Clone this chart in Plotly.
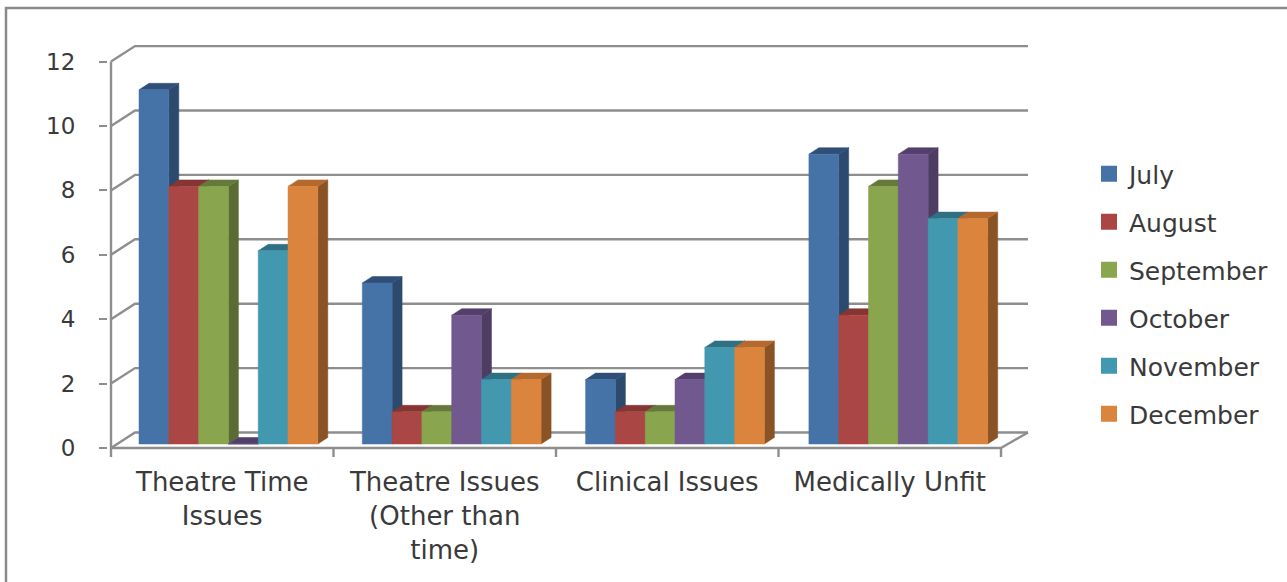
import plotly.graph_objects as go

CATEGORIES = ["Theatre Time<br>Issues", "Theatre Issues<br>(Other than<br>time)", "Clinical Issues", "Medically Unfit"]
MONTHS = ["July", "August", "September", "October", "November", "December"]
JULY = [11, 5, 2, 9]
AUGUST = [8, 1, 1, 4]
SEPTEMBER = [8, 1, 1, 8]
OCTOBER = [0, 4, 2, 9]
NOVEMBER = [6, 2, 3, 7]
DECEMBER = [8, 2, 3, 7]
SERIES = [JULY, AUGUST, SEPTEMBER, OCTOBER, NOVEMBER, DECEMBER]
Y_TICKS = [0, 2, 4, 6, 8, 10, 12]

FRONT = ["#4572A7", "#AA4643", "#89A54E", "#71588F", "#4198AF", "#DB843D"]
TOP = ["#2F4F78", "#853533", "#657A3A", "#533F6B", "#2F7183", "#B5692D"]
SIDE = ["#2C4A6E", "#7A302E", "#5A6C33", "#4E3D63", "#2B6676", "#8A5325"]

GRID = "#8E8E8E"
TEXT = "#3A3A3A"
FONT = "DejaVu Sans"

# pixel geometry: origin of the front plane, and the padded frame round it
X0_PX, Y0_PX = 111, 448
L, R, T, B = 108, 1030, 43, 458
CAT_PX = 222.5
UNIT_PX = 32.2


def xd(px):
    return px / CAT_PX


def yd(px):
    return px / UNIT_PX


X_RANGE = [xd(L - X0_PX), xd(R - X0_PX)]
Y_RANGE = [yd(Y0_PX - B), yd(Y0_PX - T)]
WALL_DX = xd(24)
WALL_DY = yd(15.5)
FRONT_END = len(CATEGORIES)
WALL_END = xd(1028 - X0_PX)
BAR_W = xd(29.8)
GROUP_START = xd(28)
GROUP_STEP = xd(223.3)
BAR_DX = xd(10)
BAR_DY = yd(6.5)
BASE = yd(4)
TICK_LEN = yd(9)

fig = go.Figure()


def line(xs, ys):
    fig.add_trace(go.Scatter(x=xs, y=ys, mode="lines", showlegend=False, hoverinfo="skip",
                             line=dict(color=GRID, width=2.4)))


def poly(xs, ys, color):
    fig.add_trace(go.Scatter(x=xs, y=ys, mode="lines", fill="toself", fillcolor=color, showlegend=False,
                             hoverinfo="skip", line=dict(color=color, width=0.5)))


# wall, floor and axis lines
for v in Y_TICKS:
    line([0, WALL_DX, WALL_END], [v, v + WALL_DY, v + WALL_DY])
line([0, 0], [0, Y_TICKS[-1]])
line([0, FRONT_END], [0, 0])
line([FRONT_END, WALL_END], [0, WALL_DY])
for c in range(len(CATEGORIES) + 1):
    line([c, c], [0, -TICK_LEN])

# bars, painted left to right so that each front hides its left neighbour's side
for c in range(len(CATEGORIES)):
    for s, values in enumerate(SERIES):
        h = values[c] + BASE
        x0 = GROUP_START + c * GROUP_STEP + s * BAR_W
        x1 = x0 + BAR_W
        poly([x1, x1, x1 + BAR_DX, x1 + BAR_DX, x1], [BASE, h, h + BAR_DY, BASE + BAR_DY, BASE], SIDE[s])
        poly([x0, x0 + BAR_DX, x1 + BAR_DX, x1, x0], [h, h + BAR_DY, h + BAR_DY, h, h], TOP[s])
        poly([x0, x0, x1, x1, x0], [BASE, h, h, BASE, BASE], FRONT[s])

# legend swatches
for s, month in enumerate(MONTHS):
    fig.add_trace(go.Scatter(x=[None], y=[None], mode="markers", name=month, legendgroup=month,
                             marker=dict(symbol="square", size=16, color=FRONT[s])))

fig.update_layout(
    width=1287, height=582, autosize=False,
    margin=dict(l=L, r=1287 - R, t=T, b=582 - B),
    paper_bgcolor="white", plot_bgcolor="white",
    font=dict(family=FONT, color=TEXT),
    hovermode=False,
    legend=dict(x=(1089 - L) / (R - L), xanchor="left", y=1 - (151 - T) / (B - T), yanchor="top",
                font=dict(size=25, family=FONT, color=TEXT), tracegroupgap=12.5,
                bgcolor="rgba(0,0,0,0)", itemclick=False, itemdoubleclick=False),
    xaxis=dict(range=X_RANGE, showgrid=False, zeroline=False, showline=False,
               tickmode="array", tickvals=[c + 0.5 for c in range(len(CATEGORIES))], ticktext=CATEGORIES,
               ticks="", tickfont=dict(size=26, family=FONT, color=TEXT), tickangle=0,
               ticklabelstandoff=6),
    yaxis=dict(range=Y_RANGE, showgrid=False, zeroline=False, showline=False,
               tickmode="array", tickvals=Y_TICKS, ticks="outside", ticklen=8, tickwidth=2.4, tickcolor=GRID,
               tickfont=dict(size=23, family=FONT, color=TEXT), ticklabelstandoff=19),
    shapes=[dict(type="path", xref="paper", yref="paper",
                 path="M {} {} L {} {} L {} {}".format(
                     (6 - L) / (R - L), 1 - (582 - T) / (B - T),
                     (6 - L) / (R - L), 1 - (8 - T) / (B - T),
                     (1287 - L) / (R - L), 1 - (8 - T) / (B - T)),
                 line=dict(color="#8A8A8A", width=2.5))],
)

fig.write_html("out.html", config={"displayModeBar": False},
               post_script="document.body.style.margin='0';document.body.style.overflow='hidden';")
